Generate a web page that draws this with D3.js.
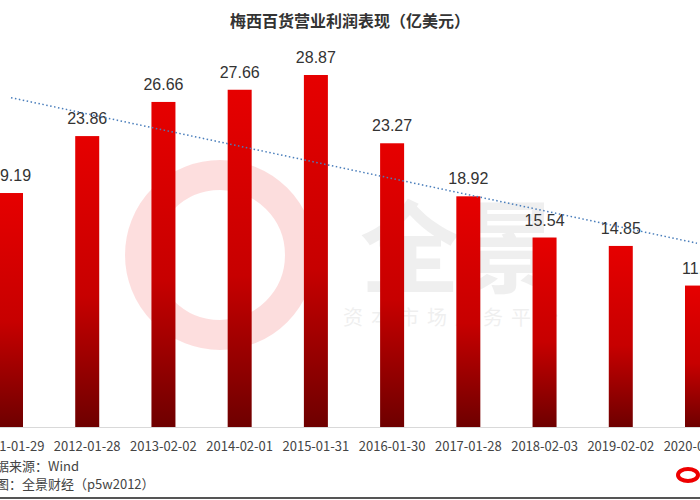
<!DOCTYPE html><html><head><meta charset="utf-8"><script src="https://cdn.jsdelivr.net/npm/d3@7"></script>
<style>body{margin:0;background:#fff}</style></head><body><svg id="c" width="700" height="500"></svg>
<script>
const categories=["2011-01-29","2012-01-28","2013-02-02","2014-02-01","2015-01-31","2016-01-30","2017-01-28","2018-02-03","2019-02-02","2020-02-01"];
const values=[19.19,23.86,26.66,27.66,28.87,23.27,18.92,15.54,14.85,11.6];
const valueLabels=["19.19","23.86","26.66","27.66","28.87","23.27","18.92","15.54","14.85","11.6"];
const svg=d3.select("#c");
const font="'Noto Sans CJK SC','Microsoft YaHei',sans-serif";
const x=d3.scalePoint().domain(categories).range([11,697]);
const y=d3.scaleLinear().domain([0,28.87]).range([427,75]);
const defs=svg.append("defs");
const g=defs.append("linearGradient").attr("id","gr").attr("x1",0).attr("y1",0).attr("x2",0).attr("y2",1);
g.append("stop").attr("offset","0").attr("stop-color","#e60000");
g.append("stop").attr("offset","0.55").attr("stop-color","#c70000");
g.append("stop").attr("offset","1").attr("stop-color","#6e0000");
// watermark
const wm=svg.append("g").attr("opacity",0.13);
wm.append("circle").attr("cx",220).attr("cy",255).attr("r",80).attr("fill","none").attr("stroke","#e00").attr("stroke-width",30);
wm.append("text").attr("x",460).attr("y",285).attr("text-anchor","middle").attr("font-size",100).attr("font-family",font).attr("fill","#888").attr("font-weight","bold").text("全景");
wm.append("text").attr("x",455).attr("y",325).attr("text-anchor","middle").attr("font-size",20).attr("font-family",font).attr("fill","#888").attr("letter-spacing",8).text("资本市场服务平台");
svg.append("text").attr("x",350).attr("y",27).attr("text-anchor","middle").attr("font-size",16).attr("font-weight","bold").attr("font-family",font).attr("fill","#333").text("梅西百货营业利润表现（亿美元）");
const bw=24;
svg.selectAll(".b").data(values).enter().append("rect").attr("x",(d,i)=>x(categories[i])-bw/2).attr("y",d=>y(d)).attr("width",bw).attr("height",d=>y(0)-y(d)).attr("fill","url(#gr)");
svg.append("line").attr("x1",0).attr("x2",700).attr("y1",427.5).attr("y2",427.5).attr("stroke","#d9d9d9");
svg.selectAll(".l").data(values).enter().append("text").attr("x",(d,i)=>x(categories[i])).attr("y",d=>y(d)-12).attr("text-anchor","middle").attr("font-size",16).attr("font-family","'Liberation Sans',sans-serif").attr("fill","#333").text((d,i)=>valueLabels[i]);
svg.selectAll(".c").data(categories).enter().append("text").attr("x",d=>x(d)).attr("y",451).attr("text-anchor","middle").attr("font-size",13).attr("font-family",font).attr("fill","#444").text(d=>d);
// trendline (linear regression)
const n=values.length,xs=d3.range(n),mx=d3.mean(xs),my=d3.mean(values);
const b=d3.sum(xs,i=>(i-mx)*(values[i]-my))/d3.sum(xs,i=>(i-mx)**2),a=my-b*mx;
svg.append("line").attr("x1",x(categories[0])).attr("x2",x(categories[n-1])).attr("y1",y(a)).attr("y2",y(a+b*(n-1))).attr("stroke","#4a7ebb").attr("stroke-width",1.5).attr("stroke-dasharray","1.5,2.5");
svg.append("text").attr("x",-17).attr("y",471).attr("font-size",13).attr("font-family",font).attr("fill","#444").text("数据来源：Wind");
svg.append("text").attr("x",-17).attr("y",489).attr("font-size",13).attr("font-family",font).attr("fill","#444").text("制图：全景财经（p5w2012）");
svg.append("ellipse").attr("cx",688).attr("cy",475).attr("rx",10).attr("ry",6).attr("fill","none").attr("stroke","#e00").attr("stroke-width",4);
svg.append("line").attr("x1",0).attr("x2",700).attr("y1",498).attr("y2",498).attr("stroke","#555").attr("stroke-width",2);
</script></body></html>
